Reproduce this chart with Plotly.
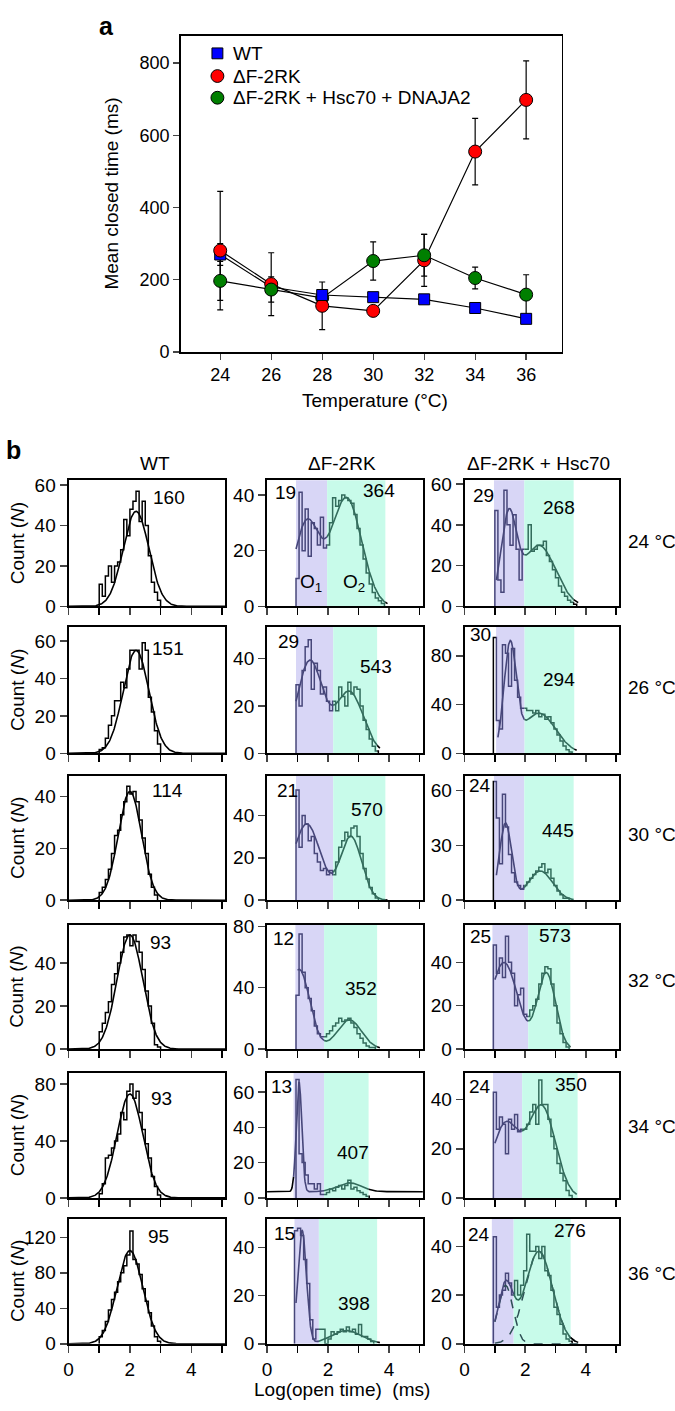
import numpy as np
import plotly.graph_objects as go
from bisect import bisect_right

FIG_W, FIG_H = 675, 1411
FONT = "Liberation Sans, Arial, Helvetica, sans-serif"

# ---------------- Panel a data ----------------
TEMPS = [24, 26, 28, 30, 32, 34, 36]
WT_MEAN = [270, 180, 158, 152, 146, 122, 92]
WT_ERR = [30, 15, 10, 8, 8, 8, 8]
DF_MEAN = [281, 188, 128, 114, 254, 555, 698]
DF_ERR = [164, 87, 66, 12, 72, 92, 108]
HS_MEAN = [197, 173, 150, 252, 268, 205, 159]
HS_ERR = [54, 35, 15, 53, 58, 30, 55]
SERIES_NAMES = ["WT", "ΔF-2RK", "ΔF-2RK + Hsc70 + DNAJA2"]

# ---------------- Panel b data ----------------
ROW_TEMPS = ["24 °C", "26 °C", "30 °C", "32 °C", "34 °C", "36 °C"]
COL_TITLES = ["WT", "ΔF-2RK", "ΔF-2RK + Hsc70"]
BIN_WIDTH = 0.1

WT_24 = [11, 5, 15, 20, 12, 20, 22, 28, 43, 35, 48, 52, 57, 42, 52, 40, 25, 12, 7, 3]
WT_26 = [2, 3, 8, 15, 20, 28, 28, 38, 35, 45, 55, 55, 55, 45, 59, 55, 30, 22, 12, 5]
WT_30 = [3, 5, 8, 12, 18, 25, 27, 33, 38, 44, 41, 42, 38, 31, 24, 18, 10, 5, 2]
WT_32 = [8, 12, 17, 22, 30, 35, 40, 45, 52, 53, 48, 53, 50, 45, 37, 27, 20, 12, 2, 1]
WT_34 = [3, 10, 28, 30, 35, 40, 45, 60, 55, 75, 80, 70, 75, 60, 48, 38, 28, 15, 8, 2]
WT_36 = [8, 15, 25, 38, 50, 58, 70, 80, 88, 100, 127, 95, 90, 78, 62, 48, 35, 20, 8, 3]
WT_STARTS = [1.0, 1.0, 1.0, 1.0, 1.0, 1.0]
WT_FITS = [(47, 2.2, 0.42), (55, 2.2, 0.42), (42, 2.0, 0.38),
           (53, 2.0, 0.42), (73, 2.0, 0.42), (105, 2.0, 0.42)]
WT_LABELS = ["160", "151", "114", "93", "93", "95"]

DF_24 = [10, 41, 20, 35, 18, 30, 28, 22, 32, 21, 22, 30, 39, 36, 38, 40, 39, 38, 37, 33,
         28, 22, 17, 12, 8, 5, 3, 2, 1]
DF_26 = [29, 20, 35, 45, 48, 27, 38, 35, 25, 28, 22, 18, 22, 18, 28, 24, 20, 30, 25, 28,
         27, 20, 14, 10, 6, 3, 1]
DF_30 = [52, 25, 40, 36, 28, 30, 22, 18, 14, 15, 12, 14, 12, 18, 25, 28, 32, 30, 34, 35,
         30, 22, 15, 10, 6, 3, 1]
DF_32 = [35, 75, 50, 40, 33, 25, 15, 10, 8, 8, 10, 12, 15, 17, 20, 18, 19, 20, 17, 14,
         10, 7, 4, 2, 1, 1]
DF_34 = [67, 25, 20, 13, 8, 8, 5, 8, 2, 2, 3, 5, 4, 6, 7, 5, 7, 10, 5, 6, 4, 3, 2, 1]
DF_36 = [47, 48, 45, 35, 25, 10, 2, 6, 6, 6, 0, 2, 5, 4, 5, 6, 5, 7, 5, 6, 4, 8, 3, 3, 2, 1]
DF_STARTS = [0.95, 0.95, 0.95, 0.95, 0.95, 0.9]
DF_O1 = [(0.95, 1.97), (0.95, 2.17), (0.95, 2.17), (0.93, 1.87), (0.87, 1.87), (0.9, 1.7)]
DF_O2_END = [3.88, 3.61, 3.88, 3.61, 3.33, 3.61]
DF_FIT1 = [(30, 1.3, 0.4), (39, 1.4, 0.42), (36, 1.3, 0.45),
           (52, 1.05, 0.35), (62, 1.05, 0.09), (47, 1.15, 0.14)]
DF_FIT2 = [(39, 2.6, 0.5), (26, 2.7, 0.45), (30, 2.75, 0.35),
           (19, 2.7, 0.4), (5, 2.7, 0.4), (5.5, 2.6, 0.5)]
DF_BASE = [0, 0, 0, 0, 3.5, 0]
DF_FIT_RANGE = [(0.95, 3.95), (0.95, 3.7), (0.95, 3.95), (1.0, 3.7), (0.0, 5.11), (0.95, 3.7)]
DF_LABELS_O1 = ["19", "29", "21", "12", "13", "15"]
DF_LABELS_O2 = ["364", "543", "570", "352", "407", "398"]

HS_24 = [47, 13, 7, 57, 40, 30, 45, 28, 13, 28, 28, 40, 27, 28, 30, 30, 32, 25, 22, 18,
         14, 10, 7, 5, 3, 2, 1]
HS_26 = [95, 27, 20, 89, 82, 55, 86, 60, 46, 37, 37, 35, 35, 33, 35, 30, 32, 28, 30, 25,
         20, 15, 10, 6, 3, 1]
HS_30 = [65, 45, 20, 58, 40, 25, 15, 10, 8, 6, 8, 10, 12, 14, 16, 18, 20, 15, 17, 12,
         8, 5, 3, 1, 1]
HS_32 = [48, 35, 42, 33, 52, 40, 35, 20, 25, 28, 16, 15, 18, 20, 23, 30, 35, 38, 37, 30,
         20, 12, 7, 3, 1]
HS_34 = [43, 28, 33, 30, 18, 32, 28, 34, 27, 28, 28, 30, 35, 38, 30, 48, 38, 38, 32, 25,
         20, 14, 10, 7, 3, 1]
HS_36 = [44, 15, 20, 22, 29, 25, 20, 26, 20, 24, 30, 45, 38, 38, 40, 35, 40, 30, 28, 22,
         15, 12, 8, 4, 2, 1]
HS_STARTS = [1.0, 0.95, 0.95, 0.95, 0.95, 0.95]
HS_O1 = [(0.97, 1.97), (1.04, 1.98), (0.97, 1.97), (0.92, 2.1), (0.94, 1.9), (0.9, 1.62)]
HS_O2_END = [3.6, 3.62, 3.6, 3.49, 3.73, 3.5]
HS_FIT1 = [(42, 1.45, 0.25), (85, 1.5, 0.2), (42, 1.35, 0.2),
           (40, 1.3, 0.45), (30, 1.35, 0.45), (24, 1.35, 0.25)]
HS_FIT2 = [(30, 2.45, 0.55), (33, 2.45, 0.55), (16, 2.5, 0.4),
           (35, 2.7, 0.3), (37, 2.55, 0.45), (38, 2.45, 0.45)]
HS_FIT_RANGE = [(1.05, 3.75), (1.1, 3.7), (1.05, 3.6), (1.0, 3.5), (1.0, 3.7), (1.0, 3.75)]
HS_SHOW_COMPONENTS = [False, False, False, False, False, True]
HS_LABELS_O1 = ["29", "30", "24", "25", "24", "24"]
HS_LABELS_O2 = ["268", "294", "445", "573", "350", "276"]

# axis settings per panel (row-major: WT, DF, HS)
Y_MAX = [[62.4, 45.3, 61.9], [67.4, 53.3, 103.5], [48, 58.6, 68],
         [57.7, 81, 57.3], [88, 70.9, 51], [141, 52, 51.4]]
Y_TICKS = [[[0, 20, 40, 60], [0, 20, 40], [0, 20, 40, 60]],
           [[0, 20, 40, 60], [0, 20, 40], [0, 40, 80]],
           [[0, 20, 40], [0, 20, 40], [0, 30, 60]],
           [[0, 20, 40], [0, 40, 80], [0, 20, 40]],
           [[0, 40, 80], [0, 20, 40, 60], [0, 20, 40]],
           [[0, 40, 80, 120], [0, 20, 40], [0, 20, 40]]]

# ---------------- colours / layout ----------------
PURPLE_FILL = "#d8d6f6"
CYAN_FILL = "#c8fbea"
PURPLE_LINE = "#47477a"
TEAL_LINE = "#336c5c"
SEG_COLORS = ["black", PURPLE_LINE, TEAL_LINE, "black"]

COL_X = [(64, 222), (264, 421), (463, 619)]
ROW_Y = [(478, 606), (627, 755), (778, 904), (929, 1055), (1079, 1206), (1227, 1354)]

# marker stacking order per temperature (indices into the three series)
Z_ORDER = [[0, 1, 2], [0, 1, 2], [2, 1, 0], [0, 1, 2], [0, 1, 2], [0, 1, 2], [0, 1, 2]]


def px_x(p):
    return p / FIG_W


def px_y(p):
    return 1 - p / FIG_H


def step_path(start, counts, w):
    xs, ys = [start], [0]
    for i, c in enumerate(counts):
        x0 = start + i * w
        xs += [x0, x0 + w]
        ys += [c, c]
    xs.append(start + len(counts) * w)
    ys.append(0)
    return xs, ys


def colored_paths(xs, ys, cuts):
    groups = {}
    for i in range(len(xs) - 1):
        x0, y0, x1, y1 = xs[i], ys[i], xs[i + 1], ys[i + 1]
        pts = [(x0, y0)]
        for c in cuts:
            if x0 < c < x1:
                pts.append((c, y0 + (y1 - y0) * (c - x0) / (x1 - x0)))
        pts.append((x1, y1))
        for a, b in zip(pts[:-1], pts[1:]):
            idx = bisect_right(cuts, (a[0] + b[0]) / 2)
            gx, gy = groups.setdefault(idx, ([], []))
            if gx and gx[-1] == a[0] and gy[-1] == a[1]:
                gx.append(b[0]); gy.append(b[1])
            else:
                if gx:
                    gx.append(None); gy.append(None)
                gx += [a[0], b[0]]; gy += [a[1], b[1]]
    return groups


def gauss(x, p):
    a, m, s = p
    return a * np.exp(-0.5 * ((x - m) / s) ** 2)


fig = go.Figure()
annotations = []
shapes = []
layout_axes = {}


def add_text(text, x, y, size=19, xanchor="center", **kw):
    annotations.append(dict(text=text, x=px_x(x), y=px_y(y), xref="paper", yref="paper",
                            showarrow=False, font=dict(size=size, family=FONT, color="black"),
                            xanchor=xanchor, yanchor="middle", **kw))


# ---------------- Panel a ----------------
layout_axes["xaxis"] = dict(domain=[px_x(177), px_x(561)], range=[22.45, 37.4],
                            tickvals=TEMPS, ticks="outside", ticklen=6, tickwidth=1.3,
                            showline=True, linewidth=1.6, linecolor="black", mirror=True,
                            showgrid=False, zeroline=False, anchor="y",
                            tickfont=dict(size=18))
layout_axes["yaxis"] = dict(domain=[px_y(348), px_y(27)], range=[0, 876],
                            tickvals=[0, 200, 400, 600, 800], ticks="outside", ticklen=6,
                            tickwidth=1.3, showline=True, linewidth=1.6, linecolor="black",
                            mirror=True, showgrid=False, zeroline=False, anchor="x",
                            tickfont=dict(size=18))

MEANS = [WT_MEAN, DF_MEAN, HS_MEAN]
ERRS = [WT_ERR, DF_ERR, HS_ERR]
SYMBOLS = ["square", "circle", "circle"]
COLORS = ["#0000ff", "#ff0000", "#007f00"]
SIZES = [11, 13, 13]

for s in range(3):
    fig.add_trace(go.Scatter(x=TEMPS, y=MEANS[s], mode="lines", xaxis="x", yaxis="y",
                             line=dict(color="black", width=1.2), showlegend=False,
                             error_y=dict(type="data", array=ERRS[s], color="black",
                                          thickness=1.2, width=3)))
for layer in range(3):
    for s in range(3):
        idx = [i for i in range(len(TEMPS)) if Z_ORDER[i][layer] == s]
        if not idx:
            continue
        fig.add_trace(go.Scatter(x=[TEMPS[i] for i in idx], y=[MEANS[s][i] for i in idx],
                                 mode="markers", xaxis="x", yaxis="y", showlegend=False,
                                 marker=dict(symbol=SYMBOLS[s], size=SIZES[s], color=COLORS[s],
                                             line=dict(color="black", width=1))))

# legend (drawn manually so spacing matches)
LEG_X, LEG_Y = 214, [45, 68, 90]
for s in range(3):
    h = SIZES[s] / 2
    shapes.append(dict(type="rect" if SYMBOLS[s] == "square" else "circle",
                       xref="paper", yref="paper",
                       x0=px_x(LEG_X - h), x1=px_x(LEG_X + h),
                       y0=px_y(LEG_Y[s] + h), y1=px_y(LEG_Y[s] - h),
                       fillcolor=COLORS[s], line=dict(color="black", width=1)))
    add_text(SERIES_NAMES[s], 228, LEG_Y[s], xanchor="left")

add_text("<b>a</b>", 102, 17, size=25)
add_text("Mean closed time (ms)", 107, 187, size=19, textangle=-90)
add_text("Temperature (°C)", 373, 397, size=19)

# ---------------- Panel b ----------------
add_text("<b>b</b>", 9, 447, size=25)
for c, t in enumerate(COL_TITLES):
    add_text(t, [151, 340, 537][c], 461)

WT_HISTS = [WT_24, WT_26, WT_30, WT_32, WT_34, WT_36]
DF_HISTS = [DF_24, DF_26, DF_30, DF_32, DF_34, DF_36]
HS_HISTS = [HS_24, HS_26, HS_30, HS_32, HS_34, HS_36]

WT_LABEL_POS = [(165, 496), (164, 649), (164, 793), (157, 947), (158, 1105), (155, 1245)]
DF_L1_POS = [(283, 490), (286, 642), (285, 793), (281, 943), (279, 1093), (282, 1242)]
DF_L2_POS = [(377, 488), (374, 667), (365, 812), (359, 994), (351, 1160), (352, 1313)]
HS_L1_POS = [(482, 494), (479, 634), (479, 788), (479, 941), (479, 1093), (478, 1243)]
HS_L2_POS = [(558, 506), (558, 680), (557, 833), (554, 940), (570, 1091), (569, 1239)]
TEMP_Y = [540, 688, 837, 985, 1134, 1283]


def add_lines(groups, colors, xa, ya, width=1.5, dash="solid"):
    for idx, (gx, gy) in groups.items():
        fig.add_trace(go.Scatter(x=gx, y=gy, mode="lines", xaxis=xa, yaxis=ya,
                                 line=dict(color=colors[idx], width=width, dash=dash),
                                 showlegend=False, hoverinfo="skip"))


for r in range(6):
    for c in range(3):
        k = 2 + r * 3 + c
        xa, ya = f"x{k}", f"y{k}"
        x0p, x1p = COL_X[c]
        y0p, y1p = ROW_Y[r]
        bottom = (r == 5)
        layout_axes[f"xaxis{k}"] = dict(
            domain=[px_x(x0p), px_x(x1p)], range=[0, 5.11], anchor=ya,
            tickvals=[0, 2, 4], showticklabels=bottom, ticks="outside", ticklen=7,
            tickwidth=1.5,
            minor=dict(tick0=0, dtick=1, ticks="outside", ticklen=7, tickwidth=1.5,
                       tickcolor="black", showgrid=False),
            showline=True, linewidth=2, linecolor="black", mirror=True,
            showgrid=False, zeroline=False, tickfont=dict(size=19))
        layout_axes[f"yaxis{k}"] = dict(
            domain=[px_y(y1p), px_y(y0p)], range=[0, Y_MAX[r][c]], anchor=xa,
            tickvals=Y_TICKS[r][c], ticks="outside", ticklen=7, tickwidth=1.5,
            showline=True, linewidth=2, linecolor="black", mirror=True,
            showgrid=False, zeroline=False, tickfont=dict(size=19))

        if c == 0:
            xs, ys = step_path(WT_STARTS[r], WT_HISTS[r], BIN_WIDTH)
            add_lines({0: (xs, ys)}, ["black"], xa, ya)
            fx = np.linspace(0, 5.11, 300)
            fy = gauss(fx, WT_FITS[r])
            add_lines({0: (list(fx), list(fy))}, ["black"], xa, ya, width=1.6)
            add_text(WT_LABELS[r], *WT_LABEL_POS[r])
            add_text("Count (<i>N</i>)", 12, (y0p + y1p) / 2, textangle=-90)
        else:
            if c == 1:
                o1, o2e = DF_O1[r], DF_O2_END[r]
                hist, start = DF_HISTS[r], DF_STARTS[r]
                f1, f2, base, frange = DF_FIT1[r], DF_FIT2[r], DF_BASE[r], DF_FIT_RANGE[r]
                show_comp = False
                l1, l2 = DF_LABELS_O1[r], DF_LABELS_O2[r]
                p1, p2 = DF_L1_POS[r], DF_L2_POS[r]
            else:
                o1, o2e = HS_O1[r], HS_O2_END[r]
                hist, start = HS_HISTS[r], HS_STARTS[r]
                f1, f2, base, frange = HS_FIT1[r], HS_FIT2[r], 0, HS_FIT_RANGE[r]
                show_comp = HS_SHOW_COMPONENTS[r]
                l1, l2 = HS_LABELS_O1[r], HS_LABELS_O2[r]
                p1, p2 = HS_L1_POS[r], HS_L2_POS[r]
                add_text(ROW_TEMPS[r], 626, TEMP_Y[r], xanchor="left")
            shapes.append(dict(type="rect", xref=xa, yref=f"{ya} domain", x0=o1[0], x1=o1[1],
                               y0=0, y1=1, fillcolor=PURPLE_FILL, line=dict(width=0),
                               layer="below"))
            shapes.append(dict(type="rect", xref=xa, yref=f"{ya} domain", x0=o1[1], x1=o2e,
                               y0=0, y1=1, fillcolor=CYAN_FILL, line=dict(width=0),
                               layer="below"))
            cuts = [o1[0], o1[1], o2e]
            xs, ys = step_path(start, hist, BIN_WIDTH)
            add_lines(colored_paths(xs, ys, cuts), SEG_COLORS, xa, ya)
            fx = np.linspace(frange[0], frange[1], 300)
            if show_comp:
                add_lines({0: (list(fx), list(gauss(fx, f1)))}, ["#2e4f55"], xa, ya,
                          width=1.5, dash="dash")
                add_lines({0: (list(fx), list(gauss(fx, f2)))}, ["#2e4f55"], xa, ya,
                          width=1.5, dash="dash")
            fy = gauss(fx, f1) + gauss(fx, f2) + base
            add_lines(colored_paths(list(fx), list(fy), cuts), SEG_COLORS, xa, ya, width=1.6)
            add_text(l1, *p1)
            add_text(l2, *p2)
            if c == 1 and r == 0:
                add_text("O<sub>1</sub>", 308, 582)
                add_text("O<sub>2</sub>", 352, 582)

add_text("Log(open time)  (ms)", 340, 1400)

fig.update_layout(
    width=FIG_W, height=FIG_H, autosize=False,
    margin=dict(l=0, r=0, t=0, b=0),
    paper_bgcolor="white", plot_bgcolor="rgba(0,0,0,0)",
    font=dict(family=FONT, size=19, color="black"),
    annotations=annotations, shapes=shapes, showlegend=False,
    **layout_axes,
)

fig.write_html("out.html", config={"displayModeBar": False, "staticPlot": True},
               post_script="document.body.style.margin='0px';")
